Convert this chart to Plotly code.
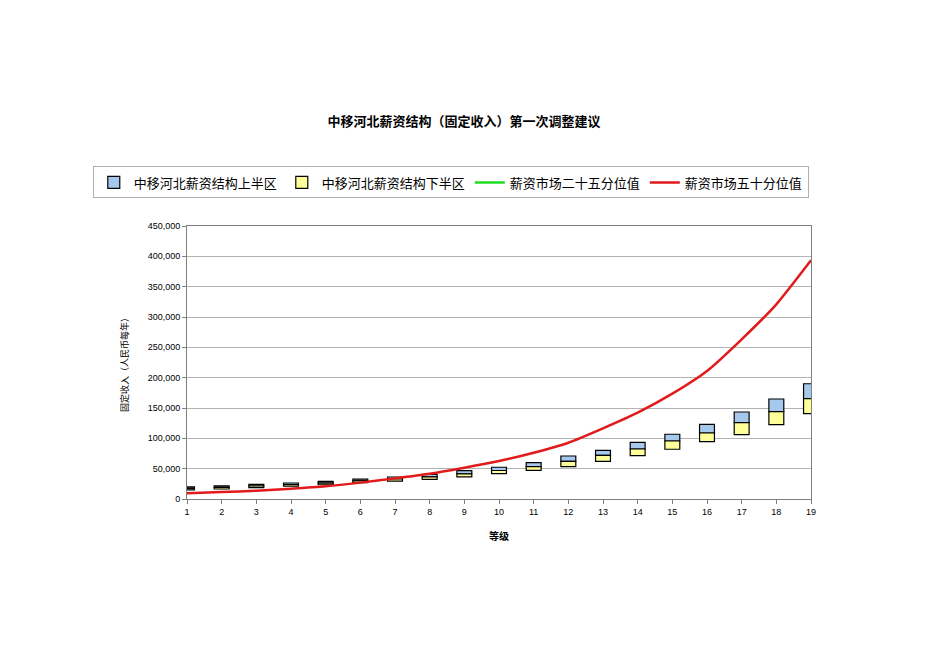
import plotly.graph_objects as go

# grades
grades = list(range(1, 19 + 1))

# company salary structure (min / mid / max)
struct_min = [15000, 16500, 18800, 21000, 23500, 27000, 29500, 32500, 36500, 41700,
              47300, 53500, 62000, 71500, 82000, 94500, 106000, 122500, 140600]
struct_mid = [17500, 19000, 21400, 23700, 26200, 29800, 33000, 36500, 41500, 47000,
              53500, 62000, 72000, 82400, 95600, 108800, 125800, 144000, 165300]
struct_max = [20000, 21500, 24000, 26400, 28900, 32600, 36300, 40700, 46700, 52300,
              59800, 70900, 80300, 93500, 106700, 123100, 143400, 164800, 190000]

# market percentiles
market_p25 = [None] * 19   # shown in legend only, no line visible in the chart
market_p50 = [9500, 11500, 13700, 17000, 21000, 27000, 34000, 41700, 51600, 62600,
              76300, 92800, 116500, 142300, 173600, 211000, 263200, 320900, 393500]

cjk = "Noto Sans CJK SC"
lat = "Liberation Sans, Arial"

lower = [m - lo for m, lo in zip(struct_mid, struct_min)]
upper = [hi - m for hi, m in zip(struct_max, struct_mid)]

fig = go.Figure()
fig.add_trace(go.Bar(
    x=grades, y=upper, base=struct_mid, width=0.43,
    name="中移河北薪资结构上半区",
    marker=dict(color="#a6c8ec", line=dict(color="black", width=1.2)),
))
fig.add_trace(go.Bar(
    x=grades, y=lower, base=struct_min, width=0.43,
    name="中移河北薪资结构下半区",
    marker=dict(color="#ffff99", line=dict(color="black", width=1.2)),
))
fig.add_trace(go.Scatter(
    x=grades, y=market_p25, mode="lines", name="薪资市场二十五分位值",
    line=dict(color="#22dd22", width=2.5),
))
fig.add_trace(go.Scatter(
    x=grades, y=market_p50, mode="lines", name="薪资市场五十分位值",
    line=dict(color="#e31a1c", width=2.5, shape="spline", smoothing=0.6),
))

fig.update_layout(
    width=950, height=672,
    paper_bgcolor="white", plot_bgcolor="white",
    margin=dict(l=179, r=147, t=218, b=181),
    barmode="overlay",
    font=dict(family=cjk, color="black"),
    title=dict(
        text="<b>中移河北薪资结构（固定收入）第一次调整建议</b>",
        x=456 / 950, xref="container", xanchor="center",
        y=1 - 113 / 672, yref="container", yanchor="middle",
        font=dict(family=cjk, size=13),
    ),
    legend=dict(
        orientation="h",
        x=-0.151, xanchor="left", y=1.218, yanchor="top",
        bordercolor="#b0b0b0", borderwidth=1,
        font=dict(family=cjk, size=13),
        traceorder="normal", itemwidth=30,
    ),
    showlegend=True,
)

fig.update_xaxes(
    range=[1, 19], tickmode="array", tickvals=grades,
    showgrid=False, showline=True, linecolor="#808080", linewidth=1,
    mirror=True, ticks="outside", ticklen=4, tickcolor="#808080",
    tickfont=dict(family=lat, size=9),
    title=dict(text="<b>等级</b>", font=dict(family=cjk, size=10), standoff=17),
)
fig.update_yaxes(
    range=[0, 450000], tickmode="linear", dtick=50000, tickformat=",d",
    showgrid=True, gridcolor="#b3b3b3", gridwidth=1,
    showline=True, linecolor="#808080", linewidth=1, mirror=True,
    ticks="outside", ticklen=4, tickcolor="#808080",
    tickfont=dict(family=lat, size=9),
    title=dict(text="固定收入（人民币每年）", font=dict(family=cjk, size=9), standoff=17),
    zeroline=False,
)

fig.write_html("out.html")
